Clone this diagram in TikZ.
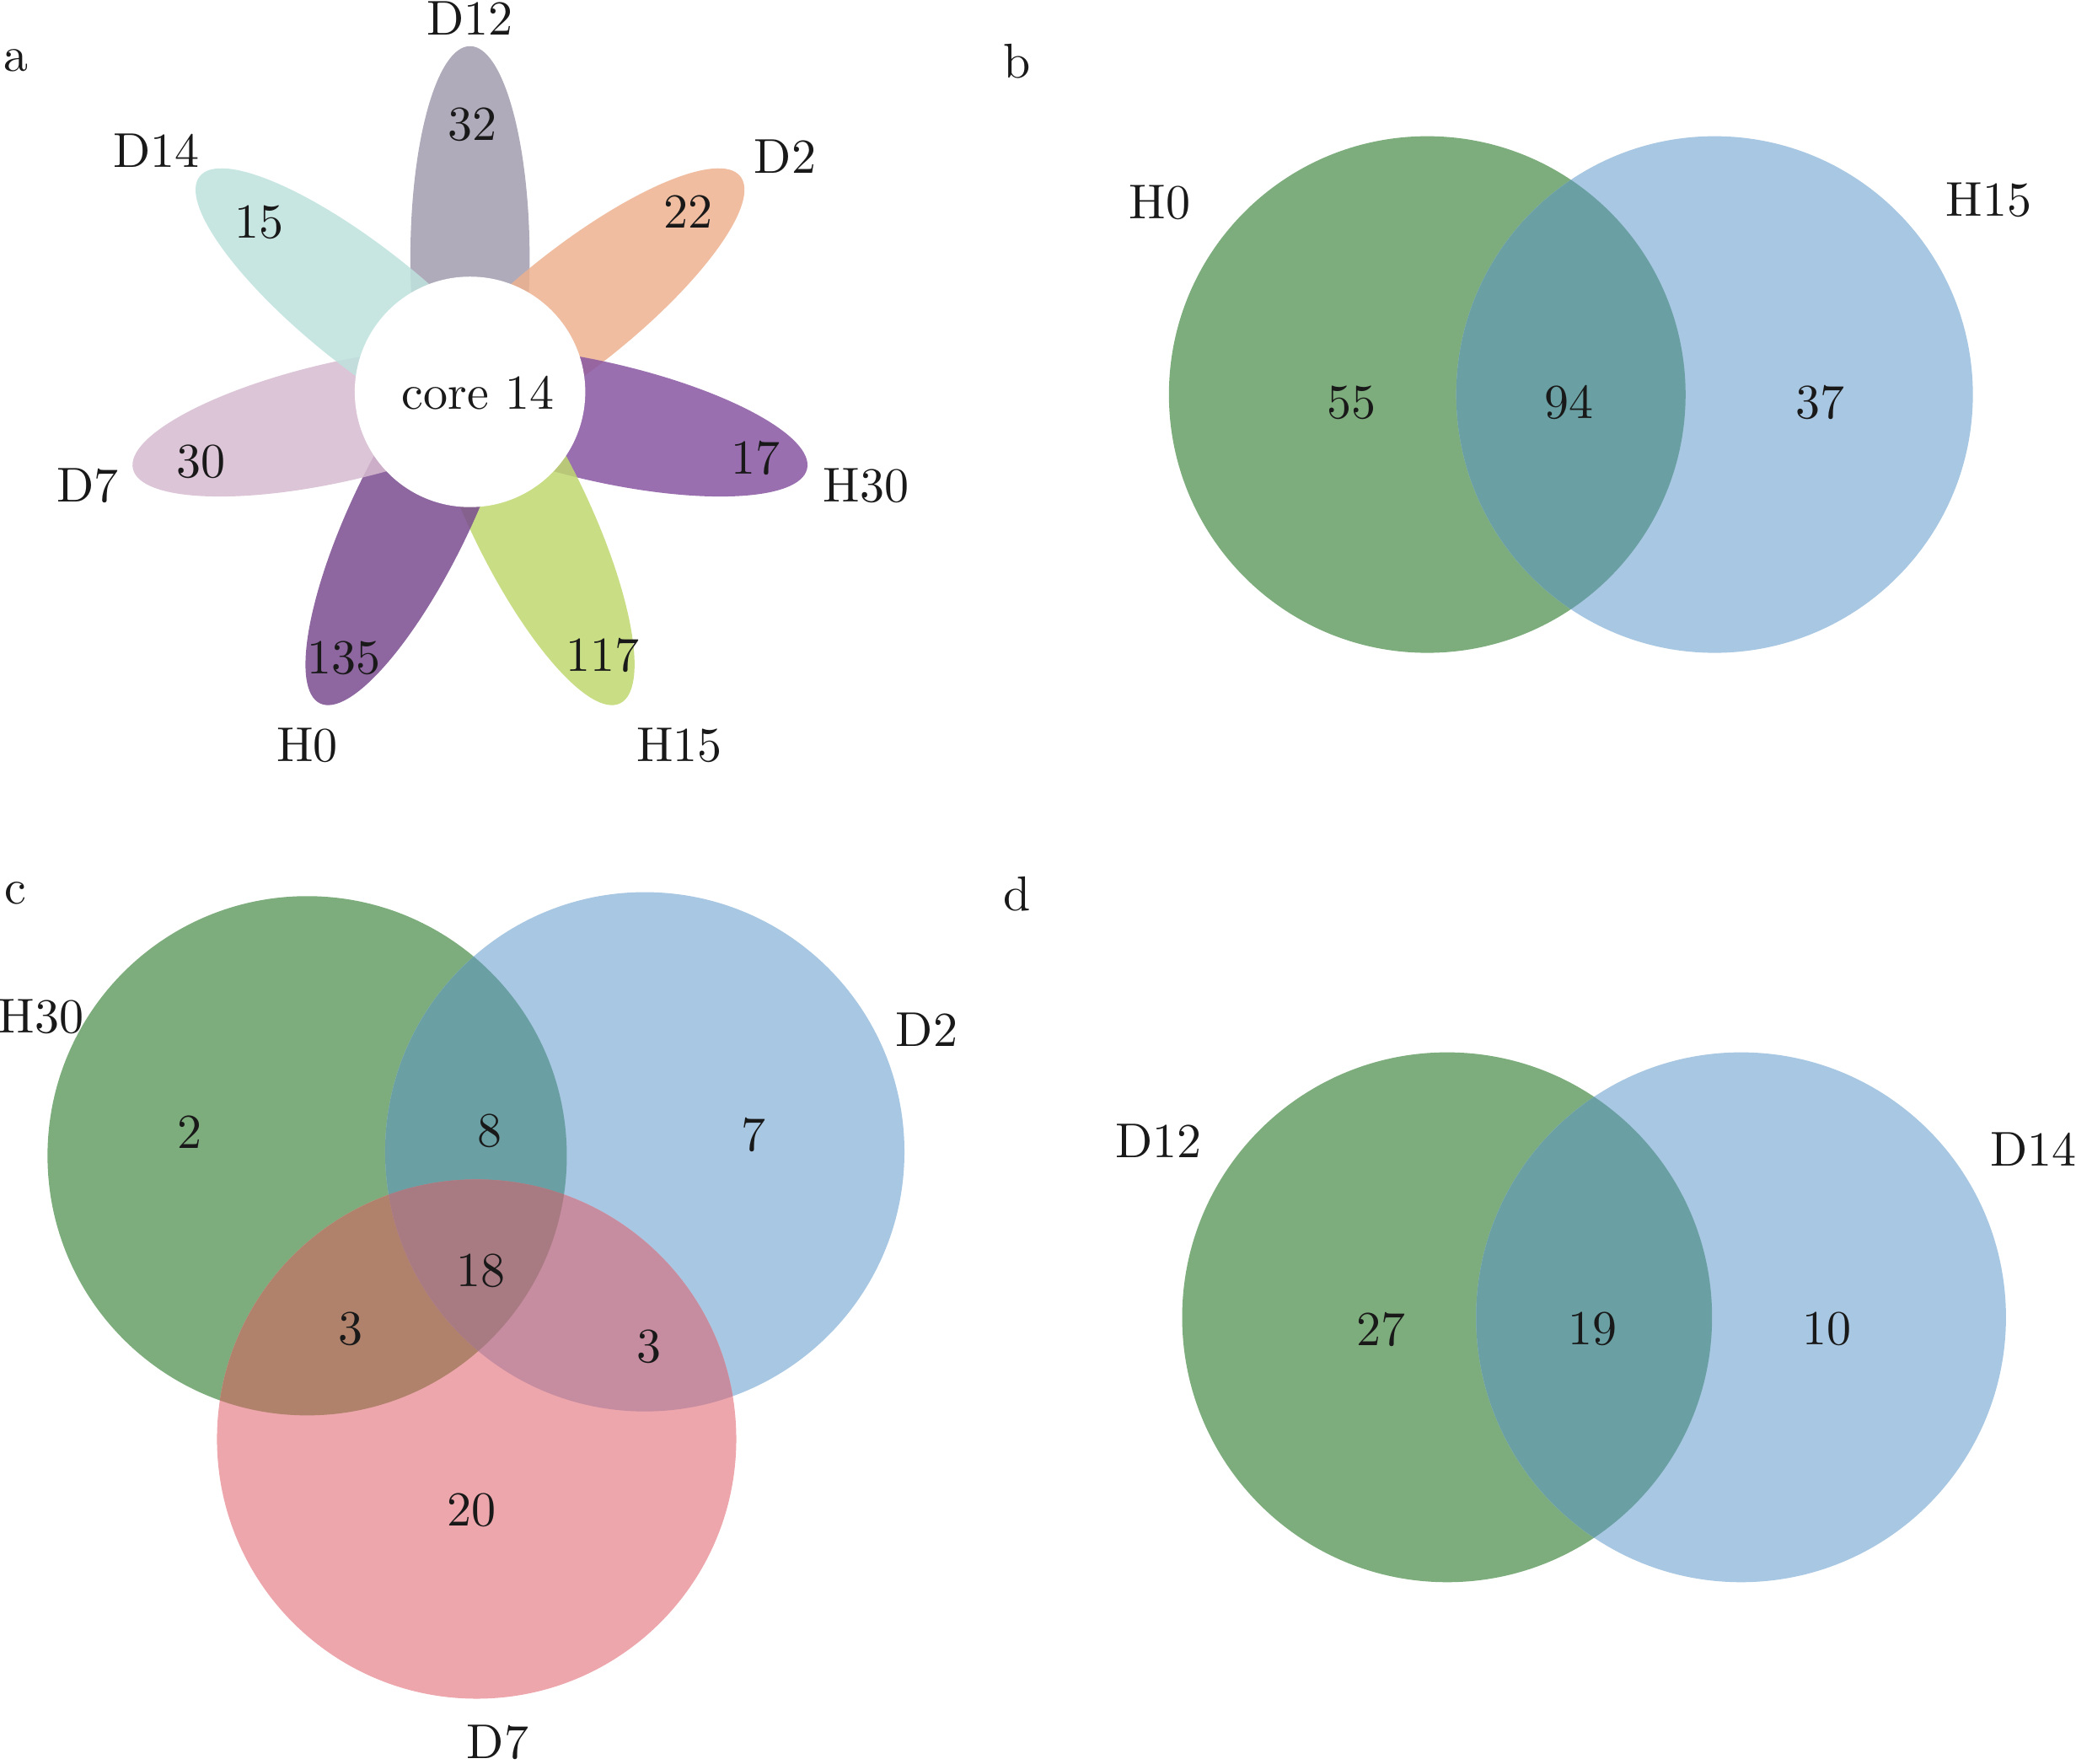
\documentclass[tikz,border=0pt]{standalone}
\usepackage{fontspec}
\definecolor{vgreen}{RGB}{126,173,125}
\definecolor{vblue}{RGB}{168,199,226}
\definecolor{vgb}{RGB}{106,160,163}
\definecolor{vpink}{RGB}{237,166,172}
\definecolor{vgp}{RGB}{176,130,108}
\definecolor{vbp}{RGB}{198,140,160}
\definecolor{vgbp}{RGB}{168,122,130}
\definecolor{pDa}{RGB}{162,156,174}
\definecolor{pDb}{RGB}{237,177,143}
\definecolor{pHc}{RGB}{136,86,161}
\definecolor{pHd}{RGB}{191,216,111}
\definecolor{pHe}{RGB}{122,76,143}
\definecolor{pDf}{RGB}{215,187,209}
\definecolor{pDg}{RGB}{190,226,220}
\begin{document}
\begin{tikzpicture}[x=0.01cm,y=-0.01cm,
  lbl/.style={font=\fontsize{10.5}{12}\selectfont, inner sep=0pt, text=black!90},
  petal/.style={fill opacity=0.85}]
\useasboundingbox (0,0) rectangle (1568,1332);

% ---------- panel a : flower ----------
\begin{scope}[shift={(355,296)}]
  \fill[pDa, petal, rotate=90]     (1.01cm,0) ellipse[x radius=1.6cm, y radius=0.45cm];
  \fill[pDb, petal, rotate=38.57]  (1.01cm,0) ellipse[x radius=1.6cm, y radius=0.45cm];
  \fill[pHc, petal, rotate=-12.86] (1.01cm,0) ellipse[x radius=1.6cm, y radius=0.45cm];
  \fill[pHd, petal, rotate=-64.29] (1.01cm,0) ellipse[x radius=1.6cm, y radius=0.45cm];
  \fill[pHe, petal, rotate=-115.71](1.01cm,0) ellipse[x radius=1.6cm, y radius=0.45cm];
  \fill[pDf, petal, rotate=192.86] (1.01cm,0) ellipse[x radius=1.6cm, y radius=0.45cm];
  \fill[pDg, petal, rotate=141.43] (1.01cm,0) ellipse[x radius=1.6cm, y radius=0.45cm];
  \fill[white] (0,0) circle[radius=0.87cm];
\end{scope}
\node[lbl] (la) at (12,46) {a};
\node[lbl] (core) at (361,297) {core 14};
\node[lbl] (n32) at (357,94) {32};
\node[lbl] (n22) at (520,160) {22};
\node[lbl] (n17) at (571,346) {17};
\node[lbl] (n117) at (455,495) {117};
\node[lbl] (n135) at (260,497) {135};
\node[lbl] (n30) at (152,349) {30};
\node[lbl] (n15) at (196,168) {15};
\node[lbl] (tD12) at (355,14) {D12};
\node[lbl] (tD2) at (593,118) {D2};
\node[lbl] (tH30) at (654,367) {H30};
\node[lbl] (tH15) at (513,563) {H15};
\node[lbl] (tH0) at (232,563) {H0};
\node[lbl] (tD7) at (66,367) {D7};
\node[lbl] (tD14) at (118,114) {D14};

% ---------- panel b ----------
\def\bA{(1078,298) circle[radius=1.95cm]}
\def\bB{(1295,298) circle[radius=1.95cm]}
\fill[vgreen] \bA;
\fill[vblue] \bB;
\begin{scope}\clip \bA; \fill[vgb] \bB; \end{scope}
\node[lbl] (lb) at (768,46) {b};
\node[lbl] (bH0) at (876,153) {H0};
\node[lbl] (bH15) at (1502,151) {H15};
\node[lbl] (b55) at (1021,304) {55};
\node[lbl] (b94) at (1185,304) {94};
\node[lbl] (b37) at (1375,304) {37};

% ---------- panel c ----------
\def\cA{(232,873) circle[radius=1.96cm]}
\def\cB{(487,870) circle[radius=1.96cm]}
\def\cC{(360,1087) circle[radius=1.96cm]}
\fill[vgreen] \cA;
\fill[vblue] \cB;
\fill[vpink] \cC;
\begin{scope}\clip \cA; \fill[vgb] \cB; \end{scope}
\begin{scope}\clip \cA; \fill[vgp] \cC; \end{scope}
\begin{scope}\clip \cB; \fill[vbp] \cC; \end{scope}
\begin{scope}\clip \cA; \clip \cB; \fill[vgbp] \cC; \end{scope}
\node[lbl] (lc) at (12,675) {c};
\node[lbl] (cH30) at (31,768) {H30};
\node[lbl] (cD2) at (700,778) {D2};
\node[lbl] (cD7) at (376,1316) {D7};
\node[lbl] (c2) at (143,855) {2};
\node[lbl] (c8) at (370,854) {8};
\node[lbl] (c7) at (569,857) {7};
\node[lbl] (c18) at (363,960) {18};
\node[lbl] (c3a) at (265,1004) {3};
\node[lbl] (c3b) at (490,1017) {3};
\node[lbl] (c20) at (356,1141) {20};

% ---------- panel d ----------
\def\dA{(1093,995) circle[radius=2.0cm]}
\def\dB{(1315,995) circle[radius=2.0cm]}
\fill[vgreen] \dA;
\fill[vblue] \dB;
\begin{scope}\clip \dA; \fill[vgb] \dB; \end{scope}
\node[lbl] (ld) at (768,675) {d};
\node[lbl] (dD12) at (875,862) {D12};
\node[lbl] (dD14) at (1536,868) {D14};
\node[lbl] (d27) at (1043,1004) {27};
\node[lbl] (d19) at (1203,1004) {19};
\node[lbl] (d10) at (1380,1004) {10};
\end{tikzpicture}
\end{document}
